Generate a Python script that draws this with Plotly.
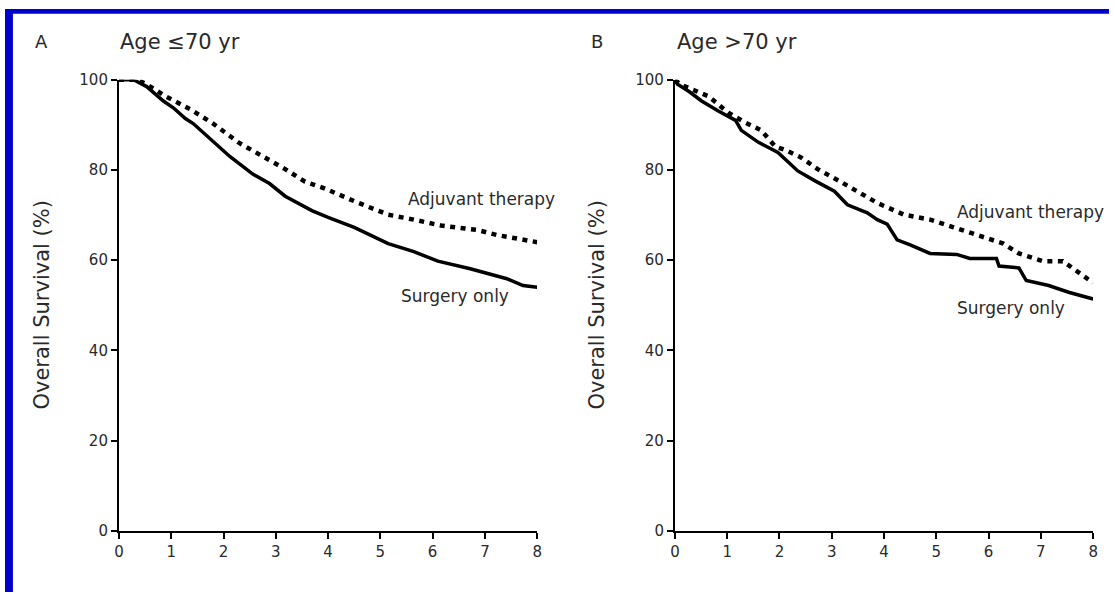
import plotly.graph_objects as go

# Panel A: Age <=70 yr
a_surg_t = [0, 0.28, 0.53, 0.85, 1.04, 1.27, 1.42, 1.8, 2.12, 2.56, 2.88, 3.18, 3.69, 4.0, 4.5, 5.15, 5.64, 6.1, 6.72, 7.42, 7.73, 8.0]
a_surg_s = [100, 100, 98.5, 95.3, 93.8, 91.4, 90.3, 86.2, 83.0, 79.1, 77.0, 74.2, 71.0, 69.5, 67.3, 63.7, 61.9, 59.8, 58.1, 55.9, 54.4, 54.0]
a_adj_t = [0, 0.35, 0.53, 0.9, 1.36, 1.8, 2.3, 2.8, 3.18, 3.56, 3.94, 4.5, 5.15, 5.64, 6.16, 6.86, 7.23, 8.0]
a_adj_s = [100, 100, 99.0, 96.3, 93.5, 90.3, 86.0, 82.8, 80.2, 77.4, 75.9, 73.1, 70.1, 69.0, 67.7, 66.7, 65.6, 64.0]

# Panel B: Age >70 yr
b_surg_t = [0, 0.05, 0.27, 0.51, 0.83, 1.16, 1.27, 1.59, 1.97, 2.35, 2.68, 3.05, 3.3, 3.68, 3.87, 4.06, 4.25, 4.5, 4.88, 5.39, 5.64, 6.15, 6.2, 6.58, 6.72, 7.15, 7.53, 7.95, 8.0]
b_surg_s = [100, 99.0, 97.4, 95.3, 93.1, 91.0, 88.8, 86.2, 83.9, 79.8, 77.6, 75.3, 72.3, 70.5, 69.0, 68.0, 64.5, 63.4, 61.5, 61.3, 60.4, 60.4, 58.7, 58.3, 55.5, 54.4, 52.9, 51.6, 51.4]
b_adj_t = [0, 0.1, 0.65, 1.02, 1.35, 1.65, 1.92, 2.1, 2.41, 2.73, 3.17, 3.55, 3.87, 4.38, 4.88, 5.33, 5.77, 6.28, 6.58, 7.04, 7.42, 7.67, 7.91, 8.0]
b_adj_s = [100, 99.0, 96.3, 92.7, 90.5, 88.8, 85.2, 84.5, 82.8, 80.2, 77.4, 74.8, 72.7, 70.1, 69.0, 67.3, 65.6, 63.7, 61.5, 59.8, 59.8, 57.6, 55.5, 55.0]

x_ticks = [0, 1, 2, 3, 4, 5, 6, 7, 8]
y_ticks = [0, 20, 40, 60, 80, 100]

FONT = "DejaVu Sans"
TXT = "#2a2a2a"

fig = go.Figure()
solid = dict(color="black", width=3.5)
dotted = dict(color="black", width=4.5, dash="5px,5.5px")

fig.add_trace(go.Scatter(x=a_adj_t, y=a_adj_s, mode="lines", line=dotted, xaxis="x", yaxis="y"))
fig.add_trace(go.Scatter(x=a_surg_t, y=a_surg_s, mode="lines", line=solid, xaxis="x", yaxis="y"))
fig.add_trace(go.Scatter(x=b_adj_t, y=b_adj_s, mode="lines", line=dotted, xaxis="x2", yaxis="y2"))
fig.add_trace(go.Scatter(x=b_surg_t, y=b_surg_s, mode="lines", line=solid, xaxis="x2", yaxis="y2"))

W, H = 1114, 601
ydom = [(H - 538) / H, (H - 73) / H]

def xaxis(dom, anchor):
    return dict(domain=dom, anchor=anchor, range=[0, 8], tickvals=x_ticks,
                showline=True, linecolor="black", linewidth=2, ticks="outside",
                ticklen=6, tickwidth=2, tickcolor="black", showgrid=False, zeroline=False,
                tickfont=dict(family=FONT, size=15, color=TXT), fixedrange=True)

def yaxis(anchor):
    return dict(domain=ydom, anchor=anchor, range=[0, 100], tickvals=y_ticks,
                showline=True, linecolor="black", linewidth=2, ticks="outside",
                ticklen=6, tickwidth=2, tickcolor="black", showgrid=False, zeroline=False,
                tickfont=dict(family=FONT, size=15, color=TXT), fixedrange=True)

ann = []
def txt(x, y, s, size, xanchor="left", xref="paper", yref="paper", angle=0):
    ann.append(dict(x=x, y=y, text=s, xref=xref, yref=yref, xanchor=xanchor, yanchor="middle",
                    showarrow=False, textangle=angle, font=dict(family=FONT, size=size, color=TXT)))

txt(37 / W, 1 - 34 / H, "A", 18, xanchor="center")
txt(114 / W, 1 - 34 / H, "Age ≤70 yr", 21)
txt(597 / W, 1 - 34 / H, "B", 18, xanchor="center")
txt(676 / W, 1 - 34 / H, "Age &gt;70 yr", 21)
txt(37 / W, (H - 305) / H, "Overall Survival (%)", 21, xanchor="center", angle=-90)
txt(597 / W, (H - 305) / H, "Overall Survival (%)", 21, xanchor="center", angle=-90)
txt(5.49, 73.5, "Adjuvant therapy", 17, xref="x", yref="y")
txt(5.36, 52.0, "Surgery only", 17, xref="x", yref="y")
txt(5.35, 70.8, "Adjuvant therapy", 17, xref="x2", yref="y2")
txt(5.35, 49.4, "Surgery only", 17, xref="x2", yref="y2")

shapes = [
    dict(type="rect", xref="paper", yref="paper", x0=0, x1=8 / W, y0=0, y1=1,
         fillcolor="#0000CC", line=dict(width=0), layer="above"),
    dict(type="rect", xref="paper", yref="paper", x0=0, x1=1, y0=1 - 5 / H, y1=1,
         fillcolor="#0000CC", line=dict(width=0), layer="above"),
]

fig.update_layout(
    width=W, height=H, margin=dict(l=0, r=0, t=0, b=0),
    paper_bgcolor="white", plot_bgcolor="white", showlegend=False,
    xaxis=xaxis([115 / W, 537 / W], "y"),
    yaxis=yaxis("x"),
    xaxis2=xaxis([676 / W, 1098 / W], "y2"),
    yaxis2=yaxis("x2"),
    annotations=ann, shapes=shapes,
)

fig.write_html("out.html", config={"displayModeBar": False})
